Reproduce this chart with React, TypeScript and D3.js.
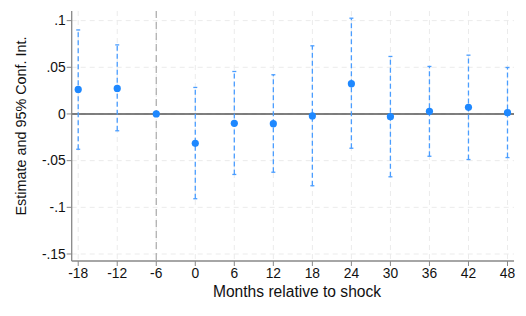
import React from "react";
import * as d3 from "d3";

const months = [-18, -12, -6, 0, 6, 12, 18, 24, 30, 36, 42, 48];
const estimates = [0.0263, 0.0274, 0, -0.0314, -0.010, -0.0104, -0.0021, 0.0324, -0.0029, 0.0028, 0.0071, 0.0014];
const ciLow = [-0.0378, -0.018, 0, -0.0908, -0.0648, -0.0624, -0.0769, -0.0367, -0.0673, -0.0453, -0.0488, -0.0467];
const ciHigh = [0.090, 0.074, 0, 0.0284, 0.0455, 0.042, 0.073, 0.1026, 0.0616, 0.0509, 0.063, 0.0498];
const hasCI = [true, true, false, true, true, true, true, true, true, true, true, true];
const yTicks = [0.1, 0.05, 0, -0.05, -0.1, -0.15];
const yTickLabels = [".1", ".05", "0", "-.05", "-.1", "-.15"];
const xTicks = [-18, -12, -6, 0, 6, 12, 18, 24, 30, 36, 42, 48];

const W = 526, H = 316;
const left = 71.7, right = 514, top = 11, bottom = 261;

export default function App() {
  const x = d3.scaleLinear().domain([-19, 49]).range([left, right]);
  const y = d3.scaleLinear().domain([-0.1575, 0.1103]).range([bottom, top]);
  const font = "'Liberation Sans', Arial, sans-serif";
  const blue = "#1E88FF";
  const ciBlue = "#4A9DFF";
  return (
    <svg width={W} height={H} style={{ position: "absolute", left: 0, top: 0 }} fontFamily={font}>
      <rect width={W} height={H} fill="#fff" />
      {yTicks.map((t) => (
        <line key={"gy" + t} x1={left} x2={right} y1={y(t)} y2={y(t)} stroke="#ebebeb" strokeWidth={1} strokeDasharray="5,4" />
      ))}
      {xTicks.map((t) => (
        <line key={"gx" + t} x1={x(t)} x2={x(t)} y1={top} y2={bottom} stroke="#ebebeb" strokeWidth={1} strokeDasharray="5,4" />
      ))}
      <line x1={x(-6)} x2={x(-6)} y1={top} y2={bottom} stroke="#aaaaaa" strokeWidth={1.2} strokeDasharray="7,4" />
      <line x1={left} x2={right} y1={y(0)} y2={y(0)} stroke="#555" strokeWidth={1.5} />
      <line x1={left} x2={left} y1={top} y2={bottom} stroke="#888" strokeWidth={1.3} />
      <line x1={left} x2={right} y1={bottom} y2={bottom} stroke="#888" strokeWidth={1.3} />
      {yTicks.map((t, i) => (
        <g key={"yt" + t}>
          <line x1={left - 5} x2={left} y1={y(t)} y2={y(t)} stroke="#888" strokeWidth={1} />
          <text x={left - 6} y={y(t)} dy="0.35em" textAnchor="end" fontSize={13.8} fill="#111">{yTickLabels[i]}</text>
        </g>
      ))}
      {xTicks.map((t) => (
        <g key={"xt" + t}>
          <line x1={x(t)} x2={x(t)} y1={bottom} y2={bottom + 5} stroke="#888" strokeWidth={1} />
          <text x={x(t)} y={bottom + 17.3} textAnchor="middle" fontSize={13.8} fill="#111">{t}</text>
        </g>
      ))}
      {months.map((m, i) =>
        hasCI[i] ? (
          <g key={"ci" + m}>
            <line x1={x(m)} x2={x(m)} y1={y(ciLow[i])} y2={y(ciHigh[i])} stroke={ciBlue} strokeWidth={1.3} strokeDasharray="5,3" />
            <line x1={x(m) - 2} x2={x(m) + 2} y1={y(ciLow[i])} y2={y(ciLow[i])} stroke={ciBlue} strokeWidth={1.3} />
            <line x1={x(m) - 2} x2={x(m) + 2} y1={y(ciHigh[i])} y2={y(ciHigh[i])} stroke={ciBlue} strokeWidth={1.3} />
          </g>
        ) : null
      )}
      {months.map((m, i) => (
        <circle key={"p" + m} cx={x(m)} cy={y(estimates[i])} r={3.6} fill={blue} />
      ))}
      <text x={297} y={296.5} textAnchor="middle" fontSize={15.6} fill="#111">Months relative to shock</text>
      <text transform={`translate(25.5, 126) rotate(-90)`} textAnchor="middle" fontSize={14.4} fill="#111">Estimate and 95% Conf. Int.</text>
    </svg>
  );
}
